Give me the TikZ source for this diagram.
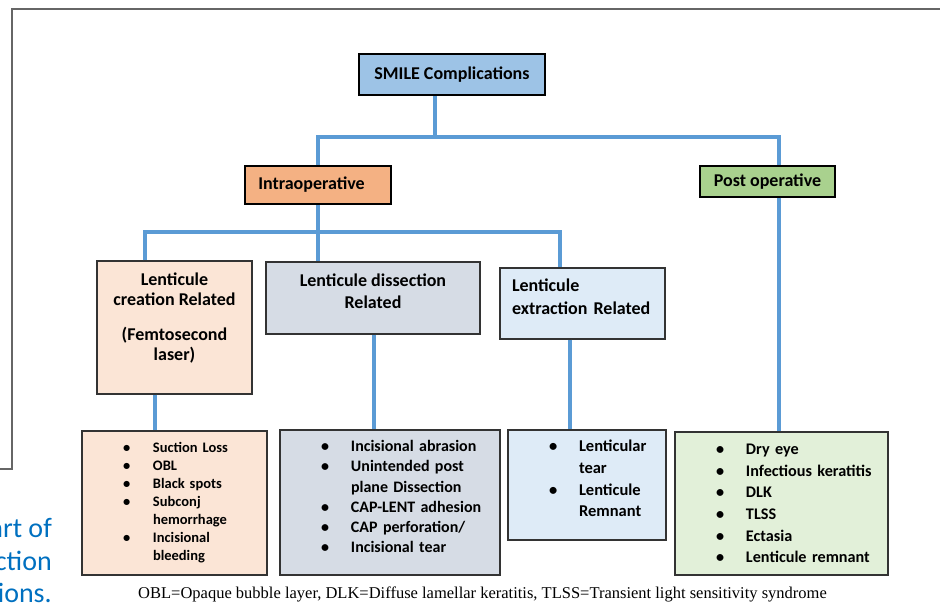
\documentclass[tikz,border=0pt]{standalone}
\usepackage{fontspec}
\setmainfont{Carlito}
\newfontfamily\capfont{Liberation Serif}
\usetikzlibrary{positioning}
\definecolor{linkblue}{HTML}{5B9BD5}
\definecolor{smileblue}{HTML}{9DC3E6}
\definecolor{intraorange}{HTML}{F4B183}
\definecolor{postgreen}{HTML}{A9D18E}
\definecolor{creapeach}{HTML}{FBE5D6}
\definecolor{dissgray}{HTML}{D6DCE5}
\definecolor{extrblue}{HTML}{DEEBF7}
\definecolor{listgreen}{HTML}{E2F0D9}
\definecolor{slideblue}{HTML}{0070C0}
\definecolor{framegray}{HTML}{666666}
\newcommand{\itm}[1]{\makebox[71pt][l]{\hspace*{41pt}\textbullet}#1}
\newcommand{\cnt}[1]{\hspace*{71pt}#1}
\newcommand{\lowstrut}[1]{\rule[-#1]{0pt}{#1}}
\tikzset{
  boxnode/.style={draw=black!80, line width=1.2pt, inner sep=0pt, font=\bfseries\fontsize{18}{20}\selectfont},
  headnode/.style={boxnode, draw=black, line width=1.6pt},
  listnode/.style={boxnode, align=left},
  link/.style={draw=linkblue, line width=3.5pt},
}
\begin{document}
\begin{tikzpicture}[x=1pt, y=-1pt]
  \useasboundingbox (0,0) rectangle (940,603);
  \draw[framegray, line width=1.5pt] (0,469) -- (12,469) -- (12,9) -- (940,9);
  % top levels
  \node[headnode, fill=smileblue, minimum width=186pt, minimum height=41pt] (smile) at (452,74.5) {SMILE Complications};
  \node[headnode, fill=intraorange, minimum width=146pt, minimum height=38pt] (intra) at (318,185) {Intraoperative\hspace*{13pt}};
  \node[headnode, fill=postgreen, line width=1.2pt, minimum width=135pt, minimum height=31pt] (post) at (767.5,181.5) {Post operative};
  % intraoperative groups
  \node[boxnode, fill=creapeach, align=center, minimum width=155pt, minimum height=133pt] (crea) at (174.5,327.5)
    {Lenticule\\creation Related\\[15pt](Femtosecond\\laser)\lowstrut{22pt}};
  \node[boxnode, fill=dissgray, align=center, minimum width=214pt, minimum height=72pt, font=\bfseries\fontsize{18}{22}\selectfont] (diss) at (373,298)
    {Lenticule dissection\\Related\lowstrut{14pt}};
  \node[boxnode, fill=extrblue, align=left, text width=165pt, minimum height=71pt, font=\bfseries\fontsize{18}{23}\selectfont] (extr) at (582.5,303.5)
    {\hspace*{12pt}Lenticule\\\hspace*{12pt}extraction Related\lowstrut{14pt}};
  % complication lists
  \node[listnode, fill=creapeach, text width=185pt, minimum height=144pt, font=\bfseries\fontsize{14.5}{18}\selectfont] (l1) at (174.5,503)
    {\itm{Suction Loss}\\\itm{OBL}\\\itm{Black spots}\\\itm{Subconj}\\\cnt{hemorrhage}\\\itm{Incisional}\\\cnt{bleeding}\lowstrut{4pt}};
  \node[listnode, fill=dissgray, text width=220pt, minimum height=145pt, font=\bfseries\fontsize{16}{20.2}\selectfont] (l2) at (390,502.5)
    {\itm{Incisional abrasion}\\\itm{Unintended post}\\\cnt{plane Dissection}\\\itm{CAP-LENT adhesion}\\\itm{CAP perforation/}\\\itm{Incisional tear}\lowstrut{12pt}};
  \node[listnode, fill=extrblue, text width=158pt, minimum height=110pt, font=\bfseries\fontsize{16.5}{21.7}\selectfont] (l3) at (587,485)
    {\itm{Lenticular}\\\cnt{tear}\\\itm{Lenticule}\\\cnt{Remnant}\lowstrut{13pt}};
  \node[listnode, fill=listgreen, text width=213pt, minimum height=143pt, font=\bfseries\fontsize{16.2}{21.6}\selectfont] (l4) at (781.5,503.5)
    {\itm{Dry eye}\\\itm{Infectious keratitis}\\\itm{DLK}\\\itm{TLSS}\\\itm{Ectasia}\\\itm{Lenticule remnant}};
  % connectors
  \coordinate (jtop) at (435,137);
  \coordinate (jl) at (145,232);
  \coordinate (jr) at (560,232);
  \draw[link] (smile.south -| jtop) -- (jtop);
  \draw[link] (intra.north) |- (jtop) -| ([xshift=11.5pt]post.north);
  \draw[link] (intra.south) -- (intra.south |- diss.north);
  \draw[link] (jl |- crea.north) -- (jl) -- (jr) -- (jr |- extr.north);
  \draw[link] ([xshift=-19.5pt]crea.south) -- ([xshift=-19.5pt]crea.south |- l1.north);
  \draw[link] ([xshift=1pt]diss.south) -- ([xshift=1pt]diss.south |- l2.north);
  \draw[link] ([xshift=-12.5pt]extr.south) -- ([xshift=-12.5pt]extr.south |- l3.north);
  \draw[link] ([xshift=11.5pt]post.south) -- ([xshift=11.5pt]post.south |- l4.north);
  % slide text and note
  \node[anchor=base east, text=slideblue, font=\fontsize{28}{32}\selectfont, inner sep=0pt] (sl1) at (52,537) {art of};
  \node[anchor=base east, text=slideblue, font=\fontsize{28}{32}\selectfont, inner sep=0pt] (sl2) at (52,570) {ction};
  \node[anchor=base east, text=slideblue, font=\fontsize{28}{32}\selectfont, inner sep=0pt] (sl3) at (52,602) {ions.};
  \node[font=\capfont\fontsize{16.5}{18}\selectfont, inner sep=0pt] (note) at (482.5,594) {OBL=Opaque bubble layer, DLK=Diffuse lamellar keratitis, TLSS=Transient light sensitivity syndrome};
\end{tikzpicture}
\end{document}
